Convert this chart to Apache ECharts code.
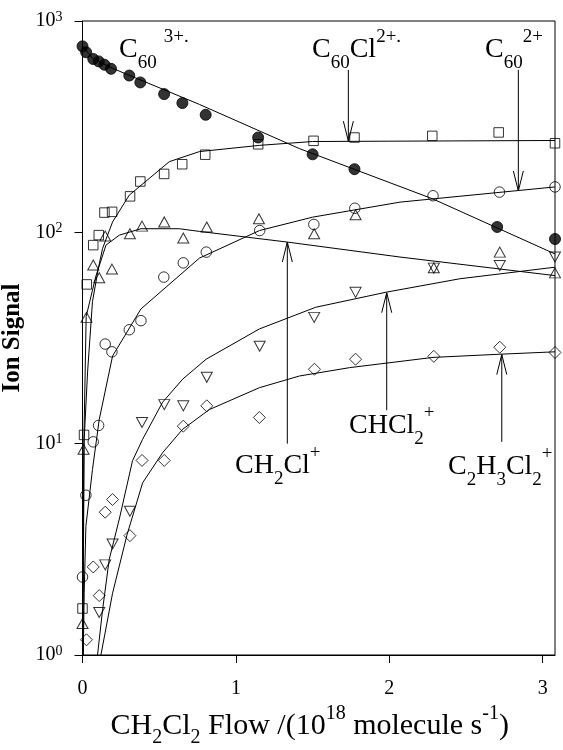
<!DOCTYPE html>
<html><head><meta charset="utf-8">
<script src="https://cdn.jsdelivr.net/npm/echarts@6/dist/echarts.min.js"></script>
<style>html,body{margin:0;padding:0;background:#fff}#c{width:563px;height:750px}</style>
</head><body><div id="c"></div>
<script>
// ---- axis ticks ----
const flowTicks = [0, 1, 2, 3];
const signalTicks = [1, 10, 100, 1000];

// ---- measured points [flow, signal] ----
const c60_3plus = [[0,759],[0.024,711],[0.07,661],[0.106,644],[0.143,621],[0.186,594],[0.305,552],[0.377,512],[0.532,451],[0.651,409],[0.803,360],[1.145,281],[1.5,234],[1.773,199],[2.703,106],[3.08,93]];
const c60cl_2plus = [[0,1.66],[0.01,11],[0.028,56.7],[0.07,87],[0.106,97],[0.143,124],[0.193,125],[0.31,148],[0.377,174],[0.532,189],[0.65,210],[0.80,233],[1.145,261],[1.506,271],[1.773,281],[2.28,286],[2.713,297],[3.08,264]];
const c60_2plus = [[0,2.34],[0.022,5.7],[0.07,10.2],[0.105,12.2],[0.148,29.6],[0.192,27.2],[0.305,34.6],[0.381,38.2],[0.53,61.4],[0.657,71.7],[0.807,80.6],[1.155,102],[1.508,109],[1.775,130],[2.285,149],[2.718,155],[3.08,164]];
const ch2cl_plus = [[0,1.41],[0.007,9.4],[0.026,39.6],[0.07,70],[0.109,61],[0.148,96],[0.192,67],[0.309,98.5],[0.388,107],[0.533,112],[0.657,94],[0.81,106],[1.15,116],[1.51,98.5],[1.78,121],[2.29,68],[2.72,80.6],[3.08,64.3]];
const chcl2_plus = [[0.109,1.59],[0.148,2.67],[0.196,3.35],[0.309,4.79],[0.388,12.6],[0.533,15.3],[0.657,15.1],[0.81,20.6],[1.155,28.9],[1.51,39.6],[1.78,52],[2.29,67.7],[2.72,69.6],[3.08,76.4]];
const c2h3cl2_plus = [[0.026,1.18],[0.07,2.61],[0.109,1.91],[0.148,4.74],[0.196,5.44],[0.309,3.67],[0.388,8.33],[0.533,8.33],[0.657,12.1],[0.81,15.1],[1.153,13.3],[1.512,22.5],[1.78,25.1],[2.29,25.9],[2.72,28.6],[3.08,27.0]];

// ---- fitted curves ----
const fitC60_3plus = [[0,760],[0.065,667],[0.196,597],[0.762,403],[1.414,249],[2.283,144],[3.08,79]];
const fitC60Cl_2plus = [[0.002,1],[0.011,10.5],[0.033,21.8],[0.065,47],[0.104,68],[0.131,84],[0.196,112],[0.305,150],[0.566,216],[0.762,241],[1.154,258],[1.5,269],[3.08,272]];
const fitC60_2plus = [[0.005,1],[0.011,1.97],[0.022,4.06],[0.065,7.55],[0.109,13],[0.196,26],[0.381,43.4],[0.762,75.5],[1.154,102],[1.5,118],[2.07,139],[3.08,164]];
const fitCH2Cl_plus = [[0.003,1],[0.008,9.4],[0.024,40],[0.087,62],[0.153,87],[0.24,97],[0.381,104],[0.631,104],[0.762,101],[1.332,90],[2.07,76.4],[3.08,62.4]];
const fitCHCl2_plus = [[0.098,1],[0.131,1.64],[0.174,2.83],[0.24,4.4],[0.326,8.3],[0.392,10.5],[0.522,15.7],[0.653,20.2],[0.806,25.1],[1.153,34.9],[1.52,44.2],[1.98,52.1],[2.46,60.3],[3.08,68.4]];
const fitC2H3Cl2_plus = [[0.12,1],[0.196,1.96],[0.29,3.7],[0.392,6.53],[0.522,9.06],[0.653,11.7],[0.827,14.5],[1.153,18.4],[1.414,20.9],[1.742,22.9],[2.285,25.6],[2.72,26.5],[3.08,27.2]];

// ---- annotations: label text and arrow [base, tip] in data units ----
const labelTexts = [
  '{m|C}{sub|60}{supg|3+.}',
  '{m|C}{sub|60}{m|Cl}{sup|2+.}',
  '{m|C}{sub|60}{sup|2+}',
  '{m|CH}{sub|2}{m|Cl}{sp|+}',
  '{m|CHCl}{sub|2}{sp|+}',
  '{m|C}{sub|2}{m|H}{sub|3}{m|Cl}{sub|2}{sup|+}'
];
const arrowBase = [[1.733,587],[2.841,587],[1.335,10],[1.983,14.4],[2.733,10.2]];
const arrowTip  = [[1.733,270],[2.841,157],[1.335,90],[1.983,51.8],[2.733,26.4]];

const FONT = '"Liberation Serif", "Times New Roman", serif';

function scatter(name, data, symbol, size, filled, rotate) {
  return {
    name, type: 'scatter', data, symbol, symbolSize: size, symbolRotate: rotate || 0, z: 3,
    itemStyle: { color: filled ? '#000' : 'rgba(0,0,0,0)', borderColor: '#000', borderWidth: 1 }
  };
}
function fit(name, data) {
  return { name, type: 'line', data, showSymbol: false, symbol: 'none', z: 2,
    lineStyle: { color: '#000', width: 1 } };
}

const chart = echarts.init(document.getElementById('c'), null, { renderer: 'canvas' });
const option = {
  animation: false,
  backgroundColor: '#fff',
  grid: { left: 82.5, right: 8, top: 21, bottom: 95, show: true, borderColor: '#000', borderWidth: 1,
          backgroundColor: 'rgba(0,0,0,0)', containLabel: false, outerBoundsMode: 'none' },
  xAxis: {
    type: 'value', min: 0, max: 3.08,
    axisLine: { show: true, lineStyle: { color: '#000', width: 1 } },
    axisTick: { show: true, inside: false, length: 8, customValues: flowTicks, lineStyle: { color: '#000' } },
    axisLabel: { customValues: flowTicks, margin: 24, fontSize: 20, fontFamily: FONT, color: '#000' },
    splitLine: { show: false },
    name: '{m|CH}{s|2}{m|Cl}{s|2}{m| Flow /(10}{p|18}{m| molecule s}{p|-1}{m|)}',
    nameLocation: 'middle', nameGap: 42,
    nameTextStyle: {
      color: '#000', fontFamily: FONT, padding: [0, 18, 0, 0],
      rich: {
        m: { fontSize: 30, lineHeight: 44, fontFamily: FONT, color: '#000' },
        s: { fontSize: 20, lineHeight: 22, verticalAlign: 'bottom', fontFamily: FONT, color: '#000' },
        p: { fontSize: 20, lineHeight: 32, verticalAlign: 'top', fontFamily: FONT, color: '#000' }
      }
    }
  },
  yAxis: {
    type: 'log', logBase: 10, min: 1, max: 1000,
    axisLine: { show: true, lineStyle: { color: '#000', width: 1 } },
    axisTick: { show: true, inside: false, length: 8, customValues: signalTicks, lineStyle: { color: '#000' } },
    minorTick: { show: false },
    axisLabel: {
      customValues: signalTicks, margin: 20, color: '#000', fontFamily: FONT,
      formatter: v => '{a|10}{b|' + Math.round(Math.log10(v)) + '}',
      rich: {
        a: { fontSize: 20, lineHeight: 22, fontFamily: FONT, color: '#000' },
        b: { fontSize: 14, lineHeight: 16, verticalAlign: 'top', fontFamily: FONT, color: '#000' }
      }
    },
    splitLine: { show: false },
    name: 'Ion Signal', nameLocation: 'middle', nameRotate: 90, nameGap: 40,
    nameTextStyle: { fontSize: 25, fontWeight: 'bold', fontFamily: FONT, color: '#000' }
  },
  series: [
    fit('fit C60 3+', fitC60_3plus),
    fit('fit C60Cl 2+', fitC60Cl_2plus),
    fit('fit C60 2+', fitC60_2plus),
    fit('fit CH2Cl+', fitCH2Cl_plus),
    fit('fit CHCl2+', fitCHCl2_plus),
    fit('fit C2H3Cl2+', fitC2H3Cl2_plus),
    scatter('C60 3+.', c60_3plus, 'circle', 11, true),
    scatter('C60Cl 2+.', c60cl_2plus, 'rect', 9.5, false),
    scatter('C60 2+', c60_2plus, 'circle', 10.5, false),
    scatter('CH2Cl+', ch2cl_plus, 'triangle', [11, 10], false),
    scatter('CHCl2+', chcl2_plus, 'triangle', [11, 10], false, 180),
    scatter('C2H3Cl2+', c2h3cl2_plus, 'diamond', 12, false)
  ]
};
chart.setOption(option);

// ---- annotation graphics ----
const richLab = {
  m:    { fontSize: 28, lineHeight: 45, fontFamily: FONT, fill: '#000', color: '#000' },
  sub:  { fontSize: 19, lineHeight: 18, verticalAlign: 'bottom', fontFamily: FONT, fill: '#000', color: '#000' },
  sup:  { fontSize: 19, lineHeight: 18, verticalAlign: 'top', fontFamily: FONT, fill: '#000', color: '#000' },
  supg: { fontSize: 19, lineHeight: 18, verticalAlign: 'top', fontFamily: FONT, fill: '#000', color: '#000', padding: [0, 0, 0, 7] },
  sp:   { fontSize: 19, lineHeight: 26, verticalAlign: 'top', fontFamily: FONT, fill: '#000', color: '#000' }
};
const labelPos = [[119, 50], [312, 50], [485, 50], [235, 466], [349, 426], [448, 467]];
const graphics = [];
labelTexts.forEach((t, i) => {
  graphics.push({
    type: 'text', x: labelPos[i][0], y: labelPos[i][1], z: 10,
    style: { text: t, rich: richLab, fill: '#000', align: 'left', verticalAlign: 'middle', font: '28px ' + FONT }
  });
});
arrowBase.forEach((b, i) => {
  const p0 = chart.convertToPixel({ gridIndex: 0 }, b);
  const p1 = chart.convertToPixel({ gridIndex: 0 }, arrowTip[i]);
  const dy = p0[1] < p1[1] ? -20 : 20;
  graphics.push({ type: 'line', z: 10, shape: { x1: p0[0], y1: p0[1], x2: p1[0], y2: p1[1] }, style: { stroke: '#000', lineWidth: 1 } });
  graphics.push({ type: 'polyline', z: 10, shape: { points: [[p1[0] - 5, p1[1] + dy], [p1[0], p1[1]], [p1[0] + 5, p1[1] + dy]] }, style: { stroke: '#000', lineWidth: 1, fill: null } });
});
chart.setOption({ graphic: graphics });
</script></body></html>
